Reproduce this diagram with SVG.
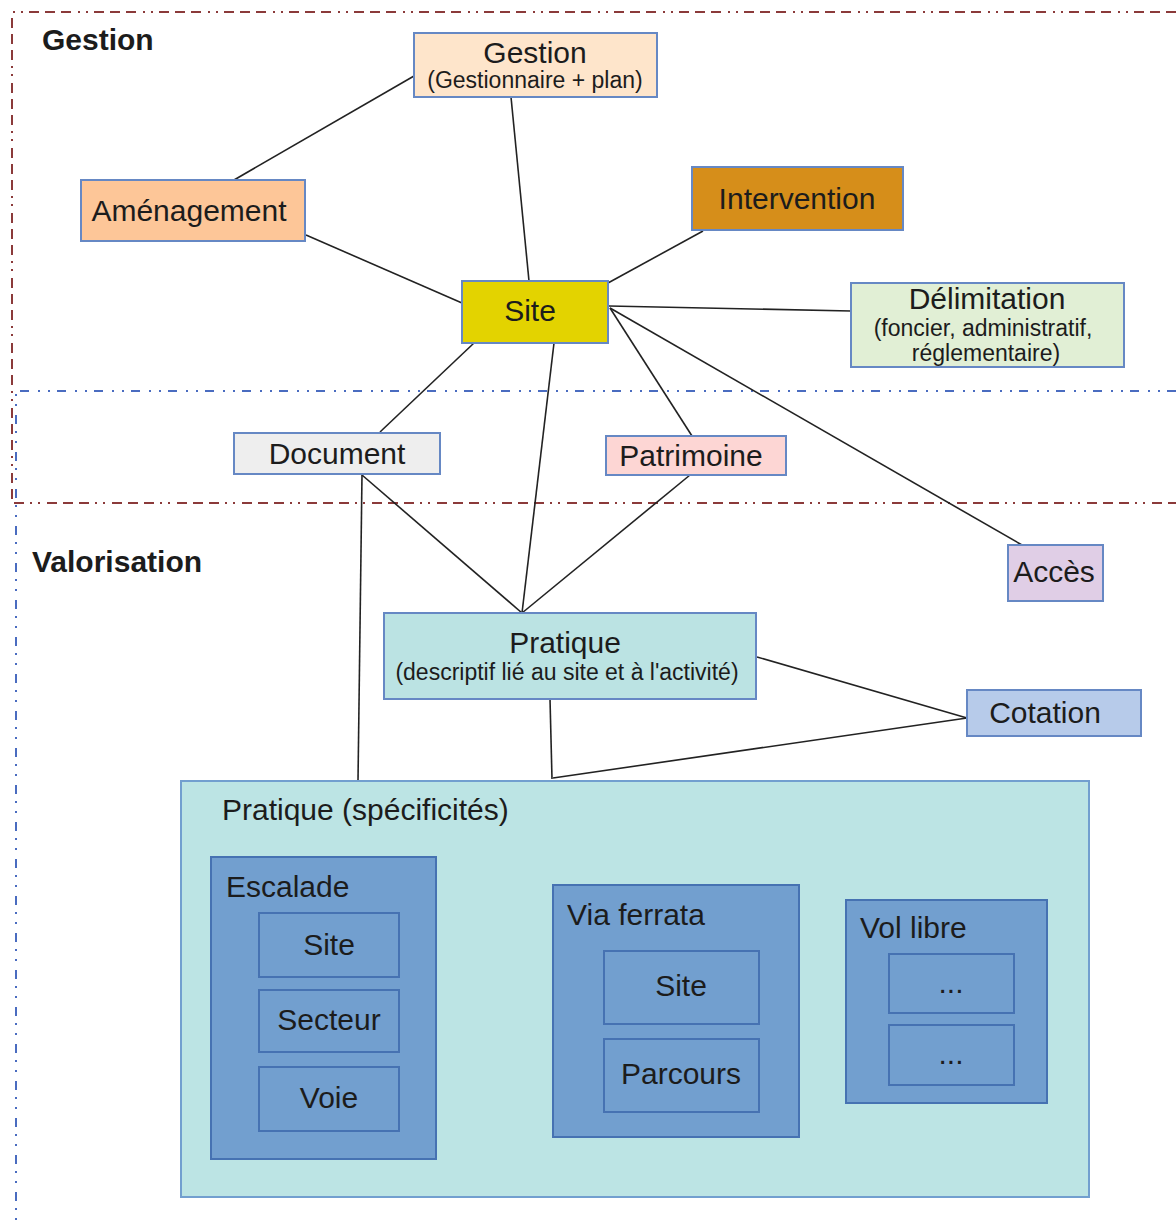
<svg xmlns="http://www.w3.org/2000/svg" width="1176" height="1222" viewBox="0 0 1176 1222">
<style>
text{font-family:"Liberation Sans",Arial,sans-serif;fill:#1c1c1c}
.t{font-size:30px;text-anchor:middle}
.s{font-size:23px;text-anchor:middle}
.l{font-size:30px}
.h{font-size:30px;font-weight:bold}
.n{stroke:#6688c4;stroke-width:2}
.in{fill:#729fcf;stroke:#4672b2;stroke-width:2}
.c line{stroke:#222;stroke-width:1.6}
</style>
<rect width="1176" height="1222" fill="#fff"/>
<g id="zones" fill="none">
<path d="M1176,12 H12 V503 H1176" stroke="#8b3a3a" stroke-width="2" stroke-dasharray="10,6,10,6,10,6,2,6,2,7"/>
<path d="M1176,391 H16 V1222" stroke="#4a6cc0" stroke-width="2" stroke-dasharray="9,7,2,8,2,9"/>
</g>
<text class="h" x="42" y="50">Gestion</text>
<text class="h" x="32" y="572">Valorisation</text>
<g id="connectors" class="c">
<line x1="414" y1="76" x2="234" y2="180"/>
<line x1="511" y1="97" x2="529" y2="281"/>
<line x1="306" y1="235" x2="462" y2="303"/>
<line x1="703" y1="231" x2="608" y2="283"/>
<line x1="609" y1="306" x2="851" y2="311"/>
<line x1="610" y1="308" x2="692" y2="436"/>
<line x1="610" y1="308" x2="1022" y2="545"/>
<line x1="474" y1="343" x2="380" y2="432"/>
<line x1="554" y1="343" x2="522" y2="613"/>
<line x1="362" y1="475" x2="522" y2="613"/>
<line x1="362" y1="475" x2="358" y2="781"/>
<line x1="690" y1="475" x2="522" y2="613"/>
<line x1="757" y1="657" x2="967" y2="718"/>
<line x1="967" y1="718" x2="553" y2="778"/>
<line x1="550" y1="699" x2="552" y2="779"/>
</g>
<g id="gestion"><rect class="n" x="414" y="33" width="243" height="64" fill="#fee5cb"/><text class="t" x="535" y="63">Gestion</text><text class="s" x="535" y="88">(Gestionnaire + plan)</text></g>
<g id="amenagement"><rect class="n" x="81" y="180" width="224" height="61" fill="#fdc698"/><text class="t" x="189" y="221">Aménagement</text></g>
<g id="intervention"><rect class="n" x="692" y="167" width="211" height="63" fill="#d68e1a"/><text class="t" x="797" y="209">Intervention</text></g>
<g id="site"><rect class="n" x="462" y="281" width="146" height="62" fill="#e3d300"/><text class="t" x="530" y="321">Site</text></g>
<g id="delimitation"><rect class="n" x="851" y="283" width="273" height="84" fill="#e1efd5"/><text class="t" x="987" y="309">Délimitation</text><text class="s" x="983" y="336">(foncier, administratif,</text><text class="s" x="986" y="361">réglementaire)</text></g>
<g id="document"><rect class="n" x="234" y="433" width="206" height="41" fill="#eeeeee"/><text class="t" x="337" y="464">Document</text></g>
<g id="patrimoine"><rect class="n" x="606" y="436" width="180" height="39" fill="#fdd6d4"/><text class="t" x="691" y="466">Patrimoine</text></g>
<g id="acces"><rect class="n" x="1008" y="545" width="95" height="56" fill="#e0cee6"/><text class="t" x="1054" y="582">Accès</text></g>
<g id="pratique"><rect class="n" x="384" y="613" width="372" height="86" fill="#bbe3e3"/><text class="t" x="565" y="653">Pratique</text><text class="s" x="567" y="680">(descriptif lié au site et à l'activité)</text></g>
<g id="cotation"><rect class="n" x="967" y="690" width="174" height="46" fill="#b7cbea"/><text class="t" x="1045" y="723">Cotation</text></g>
<g id="pratique-specificites"><rect x="181" y="781" width="908" height="416" fill="#bce4e4" stroke="#729fcf" stroke-width="2"/><text class="l" x="222" y="820">Pratique (spécificités)</text></g>
<g id="escalade"><rect class="in" x="211" y="857" width="225" height="302"/><text class="l" x="226" y="897">Escalade</text></g>
<g id="escalade-site"><rect class="in" x="259" y="913" width="140" height="64"/><text class="t" x="329" y="955">Site</text></g>
<g id="escalade-secteur"><rect class="in" x="259" y="990" width="140" height="62"/><text class="t" x="329" y="1030">Secteur</text></g>
<g id="escalade-voie"><rect class="in" x="259" y="1067" width="140" height="64"/><text class="t" x="329" y="1108">Voie</text></g>
<g id="via-ferrata"><rect class="in" x="553" y="885" width="246" height="252"/><text class="l" x="567" y="925">Via ferrata</text></g>
<g id="via-site"><rect class="in" x="604" y="951" width="155" height="73"/><text class="t" x="681" y="996">Site</text></g>
<g id="via-parcours"><rect class="in" x="604" y="1039" width="155" height="73"/><text class="t" x="681" y="1084">Parcours</text></g>
<g id="vol-libre"><rect class="in" x="846" y="900" width="201" height="203"/><text class="l" x="860" y="938">Vol libre</text></g>
<g id="vol-1"><rect class="in" x="889" y="954" width="125" height="59"/><text class="t" x="951" y="993">...</text></g>
<g id="vol-2"><rect class="in" x="889" y="1025" width="125" height="60"/><text class="t" x="951" y="1064">...</text></g>
</svg>
